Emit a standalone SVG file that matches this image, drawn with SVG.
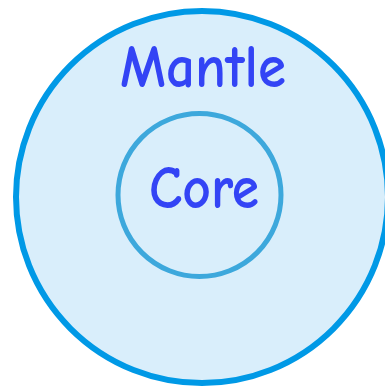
<svg xmlns="http://www.w3.org/2000/svg" width="385" height="386" viewBox="0 0 385 386">
<style>
.lbl{font-family:"Comic Sans MS","Comic Neue","DejaVu Sans","Noto Sans",sans-serif;fill:#3344f5;text-anchor:middle;font-size:60px;font-weight:bold;}
</style>
<rect width="385" height="386" fill="#ffffff"/>
<g id="mantle">
<circle cx="202" cy="197" r="186" fill="#d9eefb" stroke="#0099e6" stroke-width="6"/>
<text class="lbl" x="203" y="87" textLength="166" lengthAdjust="spacingAndGlyphs">Mantle</text>
</g>
<g id="core">
<circle cx="199.5" cy="195" r="81.5" fill="#d9eefb" stroke="#3da8dc" stroke-width="5"/>
<text class="lbl" x="204" y="208" textLength="110" lengthAdjust="spacingAndGlyphs">Core</text>
</g>
<g id="connectors"/>
</svg>
